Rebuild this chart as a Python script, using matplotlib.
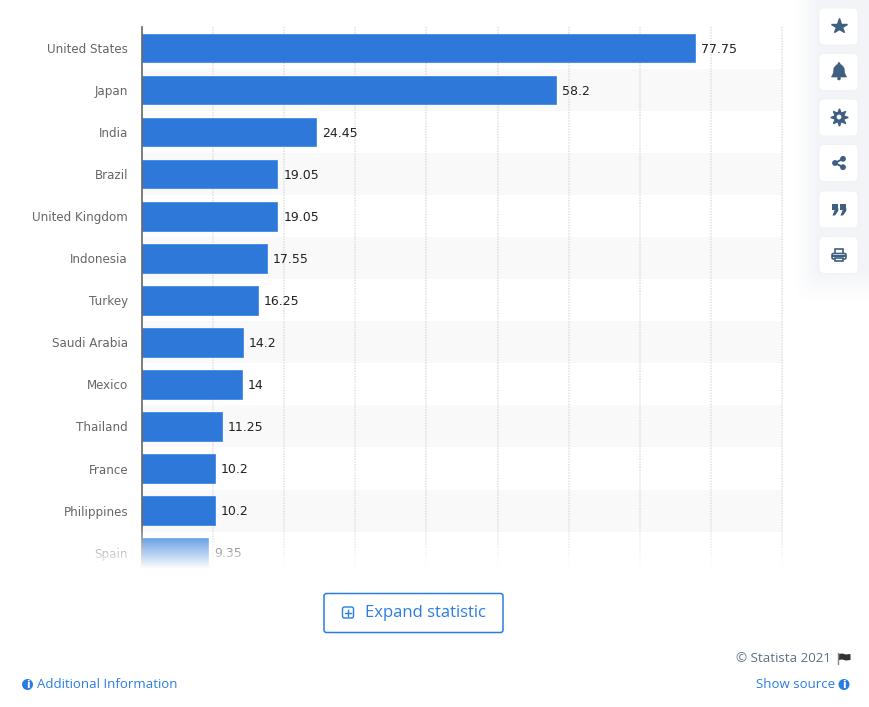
import matplotlib
matplotlib.use('Agg')
import matplotlib.pyplot as plt
from matplotlib.patches import FancyBboxPatch, Circle, Rectangle, Polygon
import numpy as np

countries = ['United States', 'Japan', 'India', 'Brazil', 'United Kingdom', 'Indonesia', 'Turkey',
             'Saudi Arabia', 'Mexico', 'Thailand', 'France', 'Philippines', 'Spain']
values = [77.75, 58.2, 24.45, 19.05, 19.05, 17.55, 16.25, 14.2, 14, 11.25, 10.2, 10.2, 9.35]
value_labels = ['77.75', '58.2', '24.45', '19.05', '19.05', '17.55', '16.25', '14.2', '14', '11.25', '10.2', '10.2', '9.35']
x_grid = [10, 20, 30, 40, 50, 60, 70, 80, 90]

W, H = 870, 707
BLUE = '#2e78da'
LINK = '#2a7de1'
NAVY = '#3f5f82'

fig = plt.figure(figsize=(W / 100, H / 100), dpi=100, facecolor='white')

# chart area, in the pixels of the page
left, right, top, bottom = 142, 782, 27, 570
ax = fig.add_axes([left / W, 1 - bottom / H, (right - left) / W, (bottom - top) / H])
ax.set_xlim(0, 90)
ax.set_ylim((bottom - 48) / 42.05, -0.5)
ax.set_facecolor('none')

y = np.arange(len(countries))
for i in y[1::2]:
    ax.add_patch(Rectangle((0, i - 0.5), 1.0, 1.0, transform=ax.get_yaxis_transform(),
                           facecolor='#f9f9f9', edgecolor='none', zorder=0))
for g in x_grid:
    ax.axvline(g, color='#e0e0e0', lw=1.1, ls=(0, (1, 0.8)), zorder=1, clip_on=False)
ax.barh(y, values, height=0.68, color=BLUE, edgecolor='#2f82ea', linewidth=0.5, zorder=2)
for i, v, t in zip(y, values, value_labels):
    ax.annotate(t, (v, i), xytext=(6, -1), textcoords='offset pixels', va='center', ha='left',
                fontsize=9.0, color='#222222', zorder=3)

ax.set_yticks(y)
ax.set_yticklabels(countries, fontsize=8.6, color='#666666')
ax.tick_params(axis='y', length=0, pad=10)
ax.set_xticks([])
for s in ['top', 'right', 'bottom']:
    ax.spines[s].set_visible(False)
ax.spines['left'].set_color('#666666')
ax.spines['left'].set_linewidth(1.2)
ax.spines['left'].set_zorder(4)

# page overlay in pixel coordinates
page = fig.add_axes([0, 0, 1, 1])
page.axis('off')
page.patch.set_alpha(0)

# fade of the cut off last row
fade = np.zeros((60, 2, 4))
fade[..., :3] = 1
fade[..., 3] = np.linspace(0, 1, 60)[:, None]
page.imshow(fade, extent=(0, 800, 569, 525), aspect='auto', zorder=5)
page.add_patch(Rectangle((0, 568.5), 800, 4, fc='white', ec='none', zorder=5))

# soft shadow behind the side buttons
glow = np.zeros((300, 80, 4))
glow[..., :3] = matplotlib.colors.to_rgb('#e6eaf2')
sx = np.clip(np.linspace(0, 1.0, 80) / 0.3, 0, 1)
sy = np.clip((300 - np.arange(300)) / 30, 0, 1)
glow[..., 3] = 0.5 * sx[None, :] * sy[:, None]
page.imshow(glow, extent=(795, 870, 300, 0), aspect='auto', zorder=6)
page.set_xlim(0, W)
page.set_ylim(H, 0)

# side buttons
def button(cy):
    page.add_patch(FancyBboxPatch((819, cy - 18.5), 39, 37, boxstyle='round,pad=0,rounding_size=5',
                                  fc='white', ec='#eef0f4', lw=0.6, zorder=7))

centers = [26.5, 72, 117.5, 163, 209.5, 255]
for c in centers:
    button(c)

page.plot(839, 25.5, marker='*', ms=11.5, color=NAVY, mec=NAVY, zorder=8)
# bell
page.add_patch(Polygon([(831.5, 77), (846.5, 77), (844.5, 73), (844, 68), (841.5, 65), (839, 64), (836.5, 65),
                        (834, 68), (833.5, 73)], fc=NAVY, ec=NAVY, lw=0.5, zorder=8))
page.add_patch(Circle((839, 78.5), 1.8, fc=NAVY, ec='none', zorder=8))
page.add_patch(Circle((839, 63.5), 1.3, fc=NAVY, ec='none', zorder=8))
# gear
page.plot(839, 117, marker=(8, 1, 0), ms=12.5, color=NAVY, mec=NAVY, zorder=8)
page.add_patch(Circle((839, 117), 5.2, fc=NAVY, ec='none', zorder=8))
page.add_patch(Circle((839, 117), 2.4, fc='white', ec='none', zorder=9))
# share
page.plot([843, 835, 843], [158.8, 163, 167.2], color=NAVY, lw=1.4, zorder=8)
for cx, cy, r in [(835, 163, 2.9), (843, 158.8, 2.9), (843, 167.2, 2.9)]:
    page.add_patch(Circle((cx, cy), r, fc=NAVY, ec='none', zorder=8))
# quotes
for cx in [835, 843]:
    page.add_patch(Rectangle((cx - 3.3, 203.5), 6.6, 6, fc=NAVY, ec='none', zorder=8))
    page.add_patch(Polygon([(cx + 3.3, 208), (cx + 3.3, 211), (cx, 215.5), (cx - 2.5, 215.5), (cx, 209)],
                           fc=NAVY, ec='none', zorder=8))
# printer
page.add_patch(Rectangle((835, 249), 8, 6, fc='white', ec=NAVY, lw=1.2, zorder=8))
page.add_patch(FancyBboxPatch((832, 253.5), 14, 5.5, boxstyle='round,pad=0,rounding_size=1.5', fc='white', ec=NAVY, lw=1.2, zorder=8))
page.add_patch(Rectangle((832, 255), 14, 1.6, fc=NAVY, ec='none', zorder=9))
page.add_patch(Rectangle((835, 257.5), 8, 3.5, fc='white', ec=NAVY, lw=1.2, zorder=9))

# expand button
page.add_patch(FancyBboxPatch((324, 593.5), 179, 39, boxstyle='round,pad=0,rounding_size=2.5',
                              fc='white', ec=LINK, lw=1.1, zorder=6))
page.add_patch(FancyBboxPatch((342.5, 607), 11, 11, boxstyle='round,pad=0,rounding_size=2',
                              fc='none', ec=LINK, lw=1, zorder=7))
page.plot([345, 351], [612.5, 612.5], color=LINK, lw=1, zorder=7)
page.plot([348, 348], [609.5, 615.5], color=LINK, lw=1, zorder=7)
page.text(365, 613, 'Expand statistic', fontsize=12.0, family='Open Sans', color=LINK, va='center', zorder=7)

# footer
page.text(831, 658.5, '© Statista 2021', fontsize=9.6, family='Open Sans', color='#5f7184', va='center', ha='right')
page.add_patch(Polygon([(839, 654), (842, 653.5), (846, 654.5), (850.5, 654), (850.5, 660), (846, 660.5), (842, 659.5), (839, 660)],
                       fc='#333333', ec='none'))
page.plot([838.5, 838.5], [653, 664], color='#888888', lw=1)

def info(cx, cy):
    page.add_patch(Circle((cx, cy), 5.5, fc=LINK, ec='none'))
    page.text(cx, cy + 0.2, 'i', fontsize=7.5, weight='bold', color='white', ha='center', va='center')

info(27.5, 684.5)
page.text(37, 684.5, 'Additional Information', fontsize=9.55, family='Open Sans', color=LINK, va='center')
info(844, 684.5)
page.text(835, 684.5, 'Show source', fontsize=9.55, family='Open Sans', color=LINK, va='center', ha='right')

fig.savefig('out.png', dpi=100)
